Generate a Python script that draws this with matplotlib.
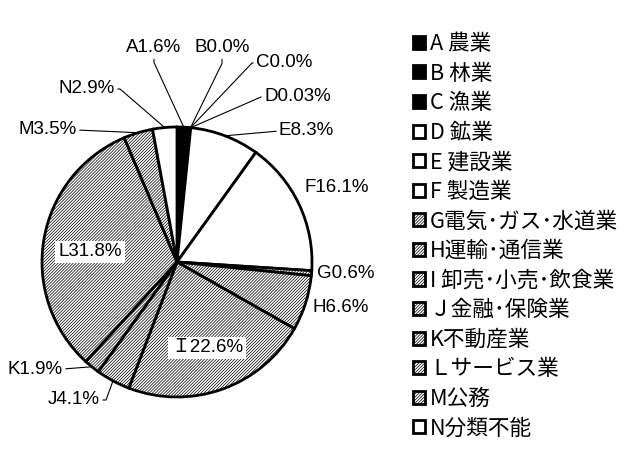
import matplotlib
matplotlib.use("Agg")
import matplotlib.pyplot as plt
import numpy as np

# 産業別構成比 (%)
codes = ["A", "B", "C", "D", "E", "F", "G", "H", "Ｉ", "J", "K", "L", "M", "N"]
shares = [1.6, 0.0, 0.0, 0.03, 8.3, 16.1, 0.6, 6.6, 22.6, 4.1, 1.9, 31.8, 3.5, 2.9]
legend_names = ["A 農業", "B 林業", "C 漁業", "D 鉱業", "E 建設業", "F 製造業",
                "G電気･ガス･水道業", "H運輸･通信業", "I 卸売･小売･飲食業",
                "Ｊ金融･保険業", "K不動産業", "Ｌサービス業", "M公務", "N分類不能"]
# 0: 黒, 1: 白, 2: 斜線
groups = [0, 0, 0, 1, 1, 1, 2, 2, 2, 2, 2, 2, 2, 1]

plt.rcParams["hatch.linewidth"] = 0.5
LABEL_FONT = ["Liberation Sans", "Noto Sans CJK JP"]

W, H = 620, 461
CX, CY, R = 177, 262, 135   # 円の中心と半径 (px)

fig = plt.figure(figsize=(W / 100, H / 100), dpi=100)
ax = fig.add_axes([0, 0, 1, 1])

face = {0: "black", 1: "white", 2: "white"}
hatch = {0: None, 1: None, 2: "/" * 11}
wedges, _ = ax.pie(shares, startangle=90, counterclock=False, radius=1,
                   colors=[face[g] for g in groups],
                   hatch=[hatch[g] for g in groups],
                   wedgeprops=dict(edgecolor="black", linewidth=2))
ax.set_aspect("auto")
ax.set_xlim(-CX / R, (W - CX) / R)
ax.set_ylim(-(H - CY) / R, CY / R)
ax.axis("off")


def fmt(v):
    return f"{v:.2f}" if 0 < v < 0.1 else f"{v:.1f}"


def px(x, y):
    return (x - CX) / R, (CY - y) / R


# ラベル配置 (px): 位置, 揃え, 引出線の始点, 引出線の形
label_pos = {
    "A": ((154, 48), "center", (0.5, 0), "arc,angleA=-90,armA=6,angleB=0,armB=0,rad=0"),
    "B": ((222, 48), "center", (0.5, 0), "arc,angleA=-90,armA=7,angleB=0,armB=0,rad=0"),
    "C": ((256, 63), "left", (0, 0.5), "arc,angleA=180,armA=4,angleB=0,armB=0,rad=0"),
    "D": ((264, 97), "left", (0, 0.5), "arc,angleA=180,armA=3,angleB=0,armB=0,rad=0"),
    "E": ((279, 131), "left", (0, 0.5), "arc3"),
    "F": ((305, 188), "left", None, None),
    "G": ((317, 274), "left", None, None),
    "H": ((312, 308), "left", None, None),
    "Ｉ": ((207, 348), "center", None, None),
    "J": ((100, 400), "right", (1, 0.5), "arc,angleA=0,armA=6,angleB=0,armB=0,rad=0"),
    "K": ((63, 369), "right", (1, 0.5), "arc3"),
    "L": ((90, 252), "center", None, None),
    "M": ((77, 130), "right", (1, 0.5), "arc3"),
    "N": ((115, 89), "right", (1, 0.5), "arc,angleA=0,armA=5,angleB=0,armB=0,rad=0"),
}

for w, code, v in zip(wedges, codes, shares):
    (tx, ty), ha, relpos, conn = label_pos[code]
    text = f"{code}{fmt(v)}%"
    ang = np.deg2rad((w.theta1 + w.theta2) / 2)
    edge = (np.cos(ang), np.sin(ang))
    kw = dict(ha=ha, va="center", fontsize=13.5, family=LABEL_FONT,
              annotation_clip=False)
    if code in ("Ｉ", "L"):
        kw["bbox"] = dict(fc="white", ec="none", pad=2)
    if conn is None:
        ax.annotate(text, xy=px(tx, ty), **kw)
    else:
        ax.annotate(text, xy=edge, xytext=px(tx, ty),
                    arrowprops=dict(arrowstyle="-", color="black", lw=0.8,
                                    shrinkA=0, shrinkB=0, relpos=relpos,
                                    connectionstyle=conn), **kw)

ax.legend(wedges, legend_names, loc="upper left",
          bbox_to_anchor=(413 / W, 1 - 33 / H), bbox_transform=fig.transFigure,
          frameon=False, borderpad=0, borderaxespad=0,
          handlelength=0.55, handleheight=0.55, handletextpad=0.22,
          labelspacing=0.35, prop=dict(family=["Noto Sans CJK JP"], size=15.6))

fig.savefig("out.png", dpi=100)
